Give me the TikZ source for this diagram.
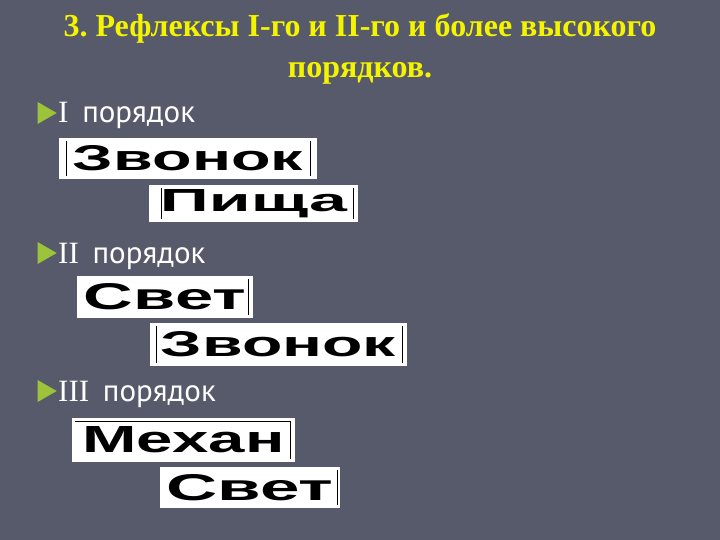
\documentclass[tikz,border=0pt]{standalone}
\usepackage{fontspec}
\setmainfont{Liberation Serif}
\newfontfamily\labelfont{PT Sans}
\newfontfamily\wordfont{Liberation Sans}
\usetikzlibrary{shapes.geometric, positioning}
\definecolor{slideBg}{HTML}{575A6A}
\definecolor{titleYellow}{HTML}{F4F400}
\definecolor{bulletGreen}{HTML}{9CC33A}
\tikzset{
    slideTitle/.style={text=titleYellow, align=center, font=\fontsize{32}{41}\selectfont\bfseries, inner sep=0pt},
    orderLabel/.style={anchor=base west, text=white, inner sep=0pt, font=\fontsize{31}{36}\selectfont},
    bulletMark/.style={isosceles triangle, fill=bulletGreen, inner sep=0pt, minimum width=19pt, minimum height=19pt, isosceles triangle apex angle=60},
    wordBox/.style={rectangle, fill=white, inner sep=0pt, text=black, font=\wordfont\bfseries},
    cursorBar/.style={draw=black, line width=1.2pt},
}
\newcommand{\orderRow}[3]{
    \node[bulletMark] (#1mark) at (44, #2) {};
    \node[orderLabel] (#1) at (58, #2+10) {#3\hspace{6pt} {\labelfont порядок}};
}
\newcommand{\barLeft}[2]{
    \draw[cursorBar] ([xshift=#2pt, yshift=-3pt]#1.north west) -- ([xshift=#2pt, yshift=3pt]#1.south west);
}
\newcommand{\barRight}[2]{
    \draw[cursorBar] ([xshift=-#2pt, yshift=-3pt]#1.north east) -- ([xshift=-#2pt, yshift=3pt]#1.south east);
}
\begin{document}
\begin{tikzpicture}[x=1pt, y=-1pt]

    \fill[slideBg] (0, 0) rectangle (720, 540);
    \useasboundingbox (0, 0) rectangle (720, 540);

    % title
    \node[slideTitle, anchor=north] (title) at (360, 13) {3.\ Рефлексы I-го и II-го и более высокого\\порядков.};

    % orders
    \orderRow{ordI}{113}{I}
    \orderRow{ordII}{253}{II}
    \orderRow{ordIII}{391}{III}

    % words
    \node[wordBox, minimum width=258, minimum height=41] (zvonokA) at (188, 158.5) {\resizebox{230pt}{25pt}{Звонок}};
    \node[wordBox, minimum width=209, minimum height=37] (pishcha) at (253.5, 203.5) {\resizebox{187pt}{22pt}{Пища}};
    \node[wordBox, minimum width=176, minimum height=42] (svetA) at (165, 297) {\resizebox{162pt}{26pt}{Свет}};
    \node[wordBox, minimum width=257, minimum height=43] (zvonokB) at (278.5, 344.5) {\resizebox{235pt}{25pt}{Звонок}};
    \node[wordBox, minimum width=223, minimum height=44] (mekhan) at (183.5, 440) {\resizebox{202pt}{26pt}{Механ}};
    \node[wordBox, minimum width=180, minimum height=41] (svetB) at (250, 487.5) {\resizebox{167pt}{26pt}{Свет}};

    \barLeft{zvonokA}{8}
    \barRight{zvonokA}{7}
    \barLeft{pishcha}{13}
    \barRight{pishcha}{5}
    \barRight{svetA}{5}
    \barLeft{zvonokB}{7}
    \barRight{zvonokB}{5}
    \barRight{mekhan}{5}
    \draw[cursorBar] ([xshift=3pt, yshift=-4pt]mekhan.north west) -- ([xshift=-5pt, yshift=-4pt]mekhan.north east);
    \barRight{svetB}{3}

\end{tikzpicture}
\end{document}
